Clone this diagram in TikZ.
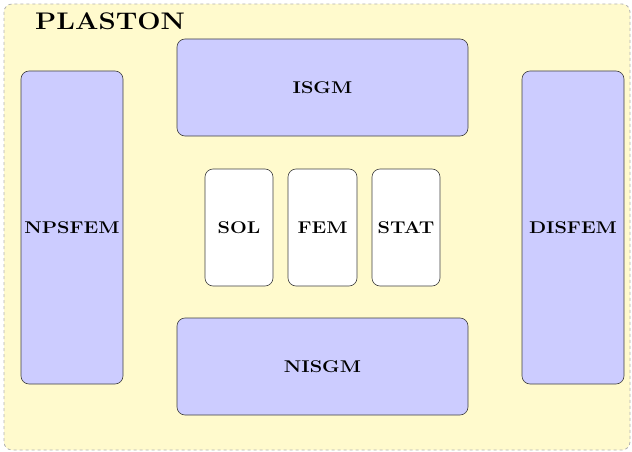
\documentclass[tikz,border=0pt]{standalone}
\usepackage{graphicx}
\usetikzlibrary{positioning}
\definecolor{bgyellow}{RGB}{255,250,205}
\definecolor{boxblue}{RGB}{204,204,255}
\newcommand{\wlab}[1]{\scalebox{1.17}[1]{#1}}
\begin{document}
\begin{tikzpicture}[x=1pt,y=-1pt,
  box/.style={draw=black!75,line width=0.6pt,rounded corners=8pt,fill=boxblue,inner sep=0pt,
    font=\fontsize{17}{20}\selectfont\bfseries},
  wbox/.style={box,fill=white},
  frame/.style={draw=black!30,dashed,line width=0.8pt,rounded corners=8pt,fill=bgyellow}]
\useasboundingbox (0,0) rectangle (632,452);
\draw[frame] (4,4) rectangle (630,450);
\node[anchor=base west,inner sep=0pt,font=\fontsize{24}{28}\selectfont\bfseries] (title) at (35,30) {\scalebox{1.15}[1]{PLASTON}};
\node[box,minimum width=102pt,minimum height=313pt] (npsfem) at (72,227.5) {\wlab{NPSFEM}};
\node[box,minimum width=102pt,minimum height=313pt] (disfem) at (573,227.5) {\wlab{DISFEM}};
\node[box,minimum width=291pt,minimum height=97pt] (isgm) at (322.5,87.5) {\wlab{ISGM}};
\node[box,minimum width=291pt,minimum height=97pt] (nisgm) at (322.5,366.5) {\wlab{NISGM}};
\node[wbox,minimum width=68pt,minimum height=117pt] (sol) at (239,227.5) {\wlab{SOL}};
\node[wbox,minimum width=69pt,minimum height=117pt] (fem) at (322.5,227.5) {\wlab{FEM}};
\node[wbox,minimum width=68pt,minimum height=117pt] (stat) at (406,227.5) {\wlab{STAT}};
\end{tikzpicture}
\end{document}
